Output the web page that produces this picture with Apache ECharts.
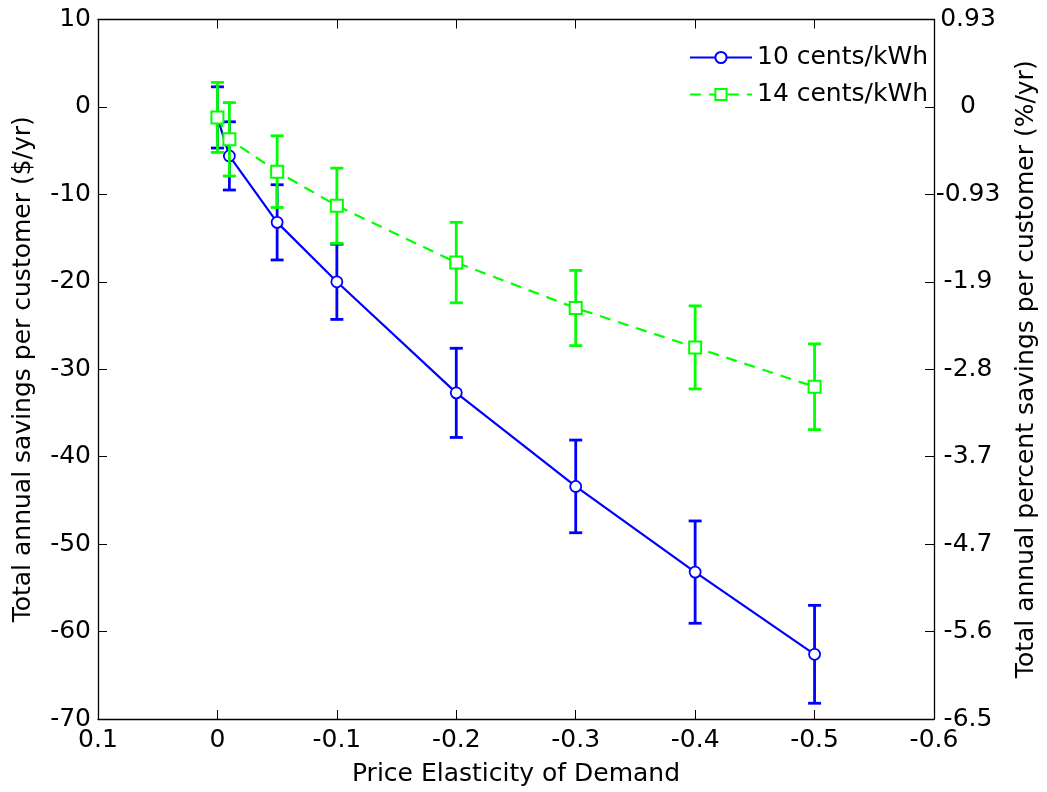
<!DOCTYPE html>
<html>
<head>
<meta charset="utf-8">
<script src="https://cdn.jsdelivr.net/npm/echarts@6/dist/echarts.min.js"></script>
<style>
html,body{margin:0;padding:0;background:#fff;}
#chart{width:1047px;height:792px;}
</style>
</head>
<body>
<div id="chart"></div>
<script>
// ---- data ----
const elasticity = [0, -0.01, -0.05, -0.1, -0.2, -0.3, -0.4, -0.5];
const savings10 = [-1.2, -5.6, -13.2, -20.0, -32.7, -43.4, -53.2, -62.6];
const err10 = [3.5, 3.9, 4.3, 4.3, 5.1, 5.3, 5.85, 5.6];
const savings14 = [-1.2, -3.7, -7.4, -11.3, -17.8, -23.0, -27.5, -32.0];
const err14 = [4.0, 4.2, 4.1, 4.3, 4.6, 4.3, 4.75, 4.9];
const leftTicks = [-70, -60, -50, -40, -30, -20, -10, 0, 10];
const rightTickLabels = ['-6.5', '-5.6', '-4.7', '-3.7', '-2.8', '-1.9', '-0.93', '0', '0.93'];
const seriesNames = ['10 cents/kWh', '14 cents/kWh'];

const BLUE = '#0000ff';
const GREEN = '#00ff00';
const FONT = 'DejaVu Sans, sans-serif';
const FS = 25;

function errData(vals, errs) {
  return elasticity.map((x, i) => [x, vals[i] - errs[i], vals[i] + errs[i]]);
}
function lineData(vals) {
  return elasticity.map((x, i) => [x, vals[i]]);
}
function errRender(color) {
  return function (params, api) {
    const x = api.value(0), lo = api.value(1), hi = api.value(2);
    const pT = api.coord([x, hi]);
    const pB = api.coord([x, lo]);
    const hw = 6.5;
    const st = { stroke: color, lineWidth: 2.8, fill: null };
    return {
      type: 'group',
      children: [
        { type: 'line', shape: { x1: pT[0], y1: pT[1], x2: pB[0], y2: pB[1] }, style: st },
        { type: 'line', shape: { x1: pT[0] - hw, y1: pT[1], x2: pT[0] + hw, y2: pT[1] }, style: st },
        { type: 'line', shape: { x1: pB[0] - hw, y1: pB[1], x2: pB[0] + hw, y2: pB[1] }, style: st }
      ]
    };
  };
}
function fmtX(v) {
  const r = Math.round(v * 10) / 10;
  return r === 0 ? '0' : String(r);
}

const axisLabelStyle = { color: '#000', fontSize: FS, fontFamily: FONT };
const nameStyle = { color: '#000', fontSize: FS, fontFamily: FONT };
const tickStyle = { show: true, inside: true, length: 9, lineStyle: { color: '#000', width: 1 } };
const axisLineStyle = { show: true, onZero: false, lineStyle: { color: '#000', width: 1.3 } };

const chart = echarts.init(document.getElementById('chart'), null, { renderer: 'canvas' });
chart.setOption({
  backgroundColor: '#fff',
  animation: false,
  grid: { left: 98, right: 106, top: 19.5, bottom: 71, containLabel: false },
  legend: {
    right: 119,
    top: 45,
    padding: 0,
    orient: 'vertical',
    itemWidth: 62,
    itemHeight: 14,
    itemGap: 12,
    textStyle: { color: '#000', fontSize: FS, fontFamily: FONT },
    data: seriesNames
  },
  xAxis: [
    {
      type: 'value', position: 'bottom', inverse: true,
      min: -0.6, max: 0.1, interval: 0.1,
      axisLine: axisLineStyle, axisTick: tickStyle, splitLine: { show: false },
      axisLabel: Object.assign({ margin: 9, formatter: fmtX }, axisLabelStyle),
      name: 'Price Elasticity of Demand', nameLocation: 'middle', nameGap: 43,
      nameTextStyle: Object.assign({ verticalAlign: 'top' }, nameStyle)
    },
    {
      type: 'value', position: 'top', inverse: true,
      min: -0.6, max: 0.1, interval: 0.1,
      axisLine: axisLineStyle, axisTick: tickStyle, splitLine: { show: false },
      axisLabel: { show: false }
    }
  ],
  yAxis: [
    {
      type: 'value', position: 'left',
      min: leftTicks[0], max: leftTicks[leftTicks.length - 1], interval: 10,
      axisLine: axisLineStyle, axisTick: tickStyle, splitLine: { show: false },
      axisLabel: Object.assign({ margin: 7 }, axisLabelStyle),
      name: 'Total annual savings per customer ($/yr)', nameLocation: 'middle', nameGap: 62,
      nameTextStyle: nameStyle
    },
    {
      type: 'value', position: 'right',
      min: leftTicks[0], max: leftTicks[leftTicks.length - 1], interval: 10,
      axisLine: axisLineStyle, axisTick: tickStyle, splitLine: { show: false },
      axisLabel: Object.assign({
        margin: 34, align: 'center',
        formatter: function (v) { return rightTickLabels[Math.round((v - leftTicks[0]) / 10)]; }
      }, axisLabelStyle),
      name: 'Total annual percent savings per customer (%/yr)', nameLocation: 'middle', nameGap: 80,
      nameRotate: 90,
      nameTextStyle: nameStyle
    }
  ],
  series: [
    {
      type: 'custom', name: 'err10', xAxisIndex: 0, yAxisIndex: 0,
      renderItem: errRender(BLUE), data: errData(savings10, err10),
      encode: { x: 0, y: [1, 2] }, silent: true, z: 2
    },
    {
      type: 'line', name: seriesNames[0], xAxisIndex: 0, yAxisIndex: 0,
      data: lineData(savings10),
      symbol: 'circle', symbolSize: 11,
      lineStyle: { color: BLUE, width: 2.2, type: 'solid' },
      itemStyle: { color: '#fff', borderColor: BLUE, borderWidth: 1.8 },
      z: 3
    },
    {
      type: 'custom', name: 'err14', xAxisIndex: 0, yAxisIndex: 0,
      renderItem: errRender(GREEN), data: errData(savings14, err14),
      encode: { x: 0, y: [1, 2] }, silent: true, z: 4
    },
    {
      type: 'line', name: seriesNames[1], xAxisIndex: 0, yAxisIndex: 0,
      data: lineData(savings14),
      symbol: 'rect', symbolSize: 12,
      lineStyle: { color: GREEN, width: 2.2, type: [11, 8] },
      itemStyle: { color: '#fff', borderColor: GREEN, borderWidth: 2 },
      z: 5
    }
  ]
});
</script>
</body>
</html>
